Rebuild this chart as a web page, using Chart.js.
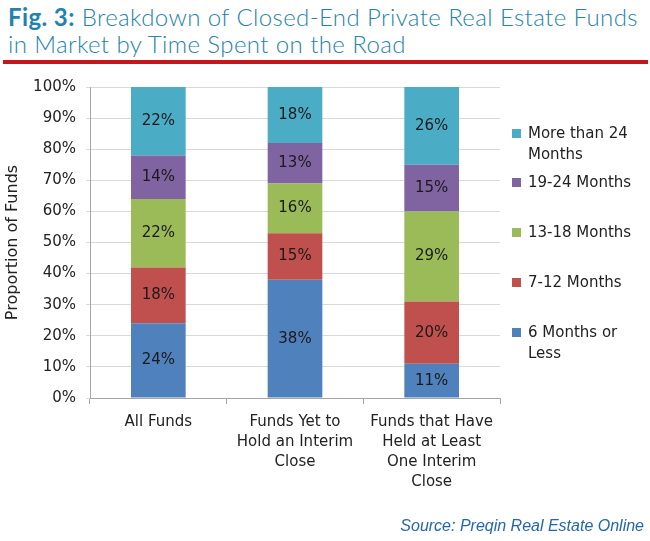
<!DOCTYPE html>
<html>
<head>
<meta charset="utf-8">
<script src="https://cdn.jsdelivr.net/npm/chart.js@4.4.1/dist/chart.umd.min.js"></script>
<style>
  body { margin: 0; background: #fff; }
  #wrap { position: relative; width: 650px; height: 541px; overflow: hidden; }
  #title { position: absolute; left: 8px; top: 3px; font-family: 'Lato', sans-serif; font-weight: 300; font-size: 24px; line-height: 27px; letter-spacing: 0.4px; color: #2483ad; white-space: nowrap; }
  #title b { font-weight: bold; }
  #rule { position: absolute; left: 3px; top: 60px; width: 645px; height: 4px; background: #c4161c; }
  #chart { position: absolute; left: 0; top: 0; }
  #legend { position: absolute; left: 0; top: 0; font-family: 'DejaVu Sans', sans-serif; font-size: 15px; color: #222; }
  .item { position: absolute; left: 512px; width: 118px; padding-left: 16px; line-height: 21px; }
  .item span { position: absolute; left: 0; top: 6px; width: 9px; height: 9px; }
  #source { position: absolute; right: 6px; top: 517px; font-family: 'Liberation Sans', Arial, sans-serif; font-style: italic; font-size: 16px; color: #2466ad; }
</style>
</head>
<body>
<div id="wrap">
  <div id="title"><b>Fig. 3:</b> Breakdown of Closed-End Private Real Estate Funds<br>in Market by Time Spent on the Road</div>
  <div id="rule"></div>
  <canvas id="chart" width="650" height="541"></canvas>
  <div id="legend"></div>
  <div id="source">Source: Preqin Real Estate Online</div>
</div>
<script>
// categories and series (percent of funds)
const categories = [
  ['All Funds'],
  ['Funds Yet to', 'Hold an Interim', 'Close'],
  ['Funds that Have', 'Held at Least', 'One Interim', 'Close']
];
const seriesNames = ['6 Months or Less', '7-12 Months', '13-18 Months', '19-24 Months', 'More than 24 Months'];
const sixOrLess = [24, 38, 11];
const sevenTo12 = [18, 15, 20];
const thirteenTo18 = [22, 16, 29];
const nineteenTo24 = [14, 13, 15];
const over24 = [22, 18, 26];
const yTicks = [0, 10, 20, 30, 40, 50, 60, 70, 80, 90, 100];

const colors = ['#4f81bd', '#c0504d', '#9bbb59', '#8064a2', '#4bacc6'];
const seriesData = [sixOrLess, sevenTo12, thirteenTo18, nineteenTo24, over24];

const font = 'DejaVu Sans';

// draw value labels in the middle of each segment
const valueLabels = {
  id: 'valueLabels',
  afterDatasetsDraw(chart) {
    const ctx = chart.ctx;
    ctx.save();
    ctx.font = '15px "' + font + '"';
    ctx.fillStyle = '#1a1a1a';
    ctx.textAlign = 'center';
    ctx.textBaseline = 'middle';
    chart.data.datasets.forEach((ds, i) => {
      const meta = chart.getDatasetMeta(i);
      meta.data.forEach((bar, j) => {
        const top = Math.max(bar.y, chart.chartArea.top);
        ctx.fillText(ds.data[j] + '%', bar.x, (top + bar.base) / 2);
      });
    });
    ctx.restore();
  }
};

const chart = new Chart(document.getElementById('chart'), {
  type: 'bar',
  data: {
    labels: categories,
    datasets: seriesData.map((d, i) => ({
      label: seriesNames[i],
      data: d,
      backgroundColor: colors[i],
      barPercentage: 0.4,
      categoryPercentage: 1
    }))
  },
  options: {
    responsive: false,
    animation: false,
    layout: { padding: { top: 87, left: 0, right: 150, bottom: 43 } },
    plugins: {
      legend: { display: false },
      tooltip: { enabled: false }
    },
    scales: {
      x: {
        stacked: true,
        afterFit(scale) { scale.height = 100; },
        grid: { drawOnChartArea: false, offset: true, tickLength: 6, color: '#a6a6a6' },
        border: { color: '#a6a6a6' },
        ticks: { color: '#222', font: { family: font, size: 15, lineHeight: 1.33 }, padding: 8, maxRotation: 0 }
      },
      y: {
        stacked: true,
        min: 0,
        max: 100,
        afterFit(scale) { scale.width = 90; },
        afterBuildTicks(scale) { scale.ticks = yTicks.map(v => ({ value: v })); },
        grid: { color: '#d9d9d9', tickLength: 4 },
        border: { color: '#a6a6a6' },
        ticks: { color: '#222', font: { family: font, size: 15 }, padding: 10, callback: v => v + '%' },
        title: { display: true, text: 'Proportion of Funds', color: '#222', font: { family: font, size: 16 }, padding: { top: 3, bottom: 0 } }
      }
    }
  },
  plugins: [valueLabels]
});

// legend, top entry first
const legendTops = [123, 172, 222, 272, 322];
const legend = document.getElementById('legend');
seriesNames.slice().reverse().forEach((name, k) => {
  const i = seriesNames.length - 1 - k;
  const item = document.createElement('div');
  item.className = 'item';
  item.style.top = legendTops[k] + 'px';
  item.innerHTML = '<span style="background:' + colors[i] + '"></span>' + name;
  legend.appendChild(item);
});
</script>
</body>
</html>
